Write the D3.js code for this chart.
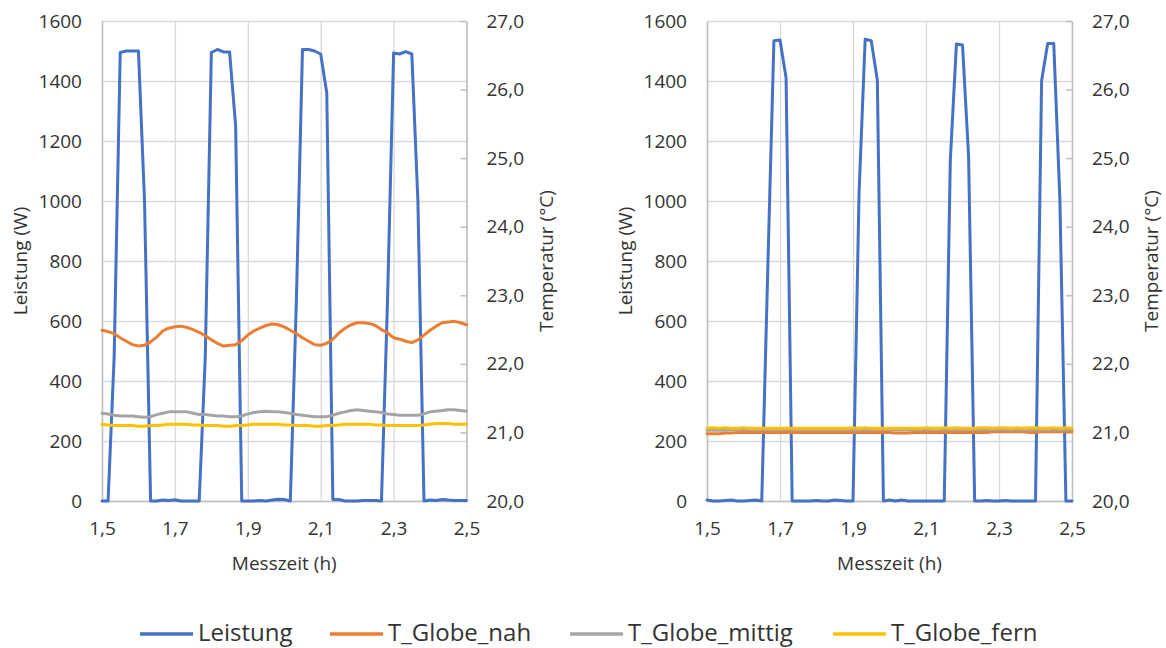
<!DOCTYPE html>
<html><head><meta charset="utf-8">
<script src="https://cdn.jsdelivr.net/npm/d3@7"></script>
<style>
body{margin:0;background:#fff;}
svg text{font-family:"Open Sans",sans-serif;fill:#333;}
</style>
</head><body>
<svg id="c" width="1166" height="648"></svg>
<script>
// ---- data ----
const minutes=[90,91,92,93,94,95,96,97,98,99,100,101,102,103,104,105,106,107,108,109,110,111,112,113,114,115,116,117,118,119,120,121,122,123,124,125,126,127,128,129,130,131,132,133,134,135,136,137,138,139,140,141,142,143,144,145,146,147,148,149,150];

const leistungA=[0,0,480,1495,1500,1500,1500,1000,0,0,3,2,4,0,0,0,0,480,1495,1505,1497,1497,1250,0,0,0,2,0,3,6,5,0,670,1505,1505,1500,1490,1360,5,5,0,0,0,2,2,2,0,670,1493,1490,1498,1490,1000,0,3,2,5,3,2,2,2];
const nahA=[22.49,22.47,22.44,22.38,22.33,22.28,22.26,22.27,22.32,22.39,22.48,22.52,22.54,22.55,22.53,22.50,22.46,22.41,22.35,22.30,22.26,22.27,22.28,22.34,22.42,22.48,22.52,22.56,22.58,22.57,22.54,22.49,22.44,22.38,22.33,22.28,22.27,22.30,22.36,22.45,22.52,22.57,22.60,22.60,22.59,22.56,22.50,22.45,22.38,22.36,22.33,22.31,22.35,22.42,22.49,22.55,22.60,22.61,22.62,22.60,22.57];
const mittigA=[21.28,21.27,21.25,21.24,21.24,21.24,21.23,21.22,21.23,21.26,21.28,21.30,21.30,21.30,21.30,21.28,21.26,21.26,21.25,21.24,21.24,21.23,21.23,21.24,21.27,21.29,21.30,21.31,21.30,21.30,21.29,21.28,21.26,21.25,21.24,21.23,21.23,21.23,21.25,21.28,21.30,21.32,21.33,21.32,21.31,21.30,21.29,21.27,21.26,21.25,21.25,21.25,21.25,21.27,21.30,21.31,21.32,21.33,21.33,21.32,21.31];
const fernA=[21.12,21.11,21.10,21.10,21.10,21.10,21.09,21.09,21.10,21.10,21.11,21.12,21.12,21.12,21.12,21.11,21.11,21.10,21.10,21.10,21.09,21.09,21.10,21.10,21.11,21.12,21.12,21.12,21.12,21.12,21.11,21.11,21.10,21.10,21.10,21.09,21.09,21.10,21.10,21.11,21.12,21.12,21.12,21.12,21.12,21.11,21.11,21.10,21.10,21.10,21.10,21.10,21.10,21.11,21.12,21.13,21.13,21.13,21.12,21.12,21.12];

const leistungB=[3,0,0,2,3,0,0,2,3,0,780,1534,1537,1410,0,0,0,0,2,0,0,3,2,0,0,1030,1539,1534,1403,0,3,0,3,0,0,0,0,0,0,0,1137,1523,1520,1150,0,0,2,0,0,2,0,0,0,0,0,1400,1525,1525,1010,0,0];
const nahB=[20.98,20.98,20.98,20.99,20.99,21.00,21.00,21.00,21.00,21.00,21.00,21.00,21.00,21.00,21.00,21.00,21.00,21.00,21.00,21.00,21.00,21.00,21.00,21.00,21.00,21.00,21.00,21.00,21.00,21.00,21.00,20.99,20.99,20.99,21.00,21.00,21.00,21.00,21.00,21.00,21.00,21.00,21.00,21.00,21.00,21.00,21.00,21.01,21.01,21.01,21.01,21.01,21.01,21.00,21.00,21.01,21.01,21.01,21.01,21.01,21.01];
const mittigB=[21.03,21.03,21.03,21.03,21.04,21.04,21.04,21.04,21.04,21.04,21.04,21.04,21.04,21.04,21.04,21.04,21.04,21.04,21.04,21.04,21.04,21.04,21.04,21.04,21.04,21.04,21.04,21.04,21.04,21.04,21.04,21.04,21.04,21.04,21.04,21.04,21.04,21.04,21.04,21.04,21.04,21.04,21.04,21.04,21.04,21.04,21.04,21.04,21.04,21.04,21.04,21.04,21.04,21.04,21.04,21.04,21.04,21.04,21.04,21.04,21.04];
const fernB=[21.06,21.07,21.06,21.07,21.06,21.06,21.07,21.06,21.06,21.06,21.06,21.06,21.06,21.06,21.06,21.06,21.06,21.06,21.06,21.06,21.06,21.06,21.06,21.06,21.07,21.06,21.07,21.06,21.06,21.06,21.06,21.06,21.06,21.06,21.06,21.06,21.07,21.06,21.06,21.07,21.06,21.07,21.06,21.06,21.06,21.07,21.07,21.06,21.07,21.07,21.06,21.07,21.06,21.07,21.07,21.06,21.06,21.07,21.06,21.07,21.06];

const xTickValues=[1.5,1.7,1.9,2.1,2.3,2.5];
const leftTickValues=[0,200,400,600,800,1000,1200,1400,1600];
const rightTickValues=[20,21,22,23,24,25,26,27];
const seriesNames=["Leistung","T_Globe_nah","T_Globe_mittig","T_Globe_fern"];
const colors=["#4472C4","#ED7D31","#A5A5A5","#FFC000"];
const xTitle="Messzeit (h)", yLeftTitle="Leistung (W)", yRightTitle="Temperatur (°C)";

// ---- layout ----
const svg=d3.select("#c");
const yTop=21, yBottom=501;
const panels=[
  {x0:102,x1:466.5,series:[leistungA,nahA,mittigA,fernA]},
  {x0:707,x1:1072,series:[leistungB,nahB,mittigB,fernB]}
];
const comma=f=>v=>f(v).replace(".",",");
const gridColor="#d9d9d9", axisColor="#bfbfbf";
const FS=19;

panels.forEach(p=>{
  const x=d3.scaleLinear().domain([1.5,2.5]).range([p.x0,p.x1]);
  const yL=d3.scaleLinear().domain([0,1600]).range([yBottom,yTop]);
  const yR=d3.scaleLinear().domain([20,27]).range([yBottom,yTop]);
  const g=svg.append("g");
  const w=p.x1-p.x0;

  const hg=g.append("g").attr("transform",`translate(${p.x0},0)`)
    .call(d3.axisLeft(yL).tickValues(leftTickValues).tickSize(-w).tickFormat(""));
  hg.select(".domain").remove();
  hg.selectAll("line").attr("stroke",gridColor).attr("stroke-width",1.3);
  const vg=g.append("g").attr("transform",`translate(0,${yBottom})`)
    .call(d3.axisBottom(x).tickValues(xTickValues).tickSize(-(yBottom-yTop)).tickFormat(""));
  vg.select(".domain").remove();
  vg.selectAll("line").attr("stroke",gridColor).attr("stroke-width",1.3);

  const la=g.append("g").attr("transform",`translate(${p.x0},0)`)
    .call(d3.axisLeft(yL).tickValues(leftTickValues).tickSize(0).tickPadding(20).tickFormat(d3.format("d")));
  la.select(".domain").attr("stroke",axisColor).attr("stroke-width",1.5);
  la.selectAll("text").attr("font-size",FS).attr("fill","#333").attr("font-family","Open Sans");
  const ra=g.append("g").attr("transform",`translate(${p.x1},0)`)
    .call(d3.axisRight(yR).tickValues(rightTickValues).tickSize(-6).tickSizeOuter(0).tickPadding(20).tickFormat(comma(d3.format(".1f"))));
  ra.select(".domain").attr("stroke",axisColor).attr("stroke-width",1.5);
  ra.selectAll("line").attr("stroke",axisColor).attr("stroke-width",1.5);
  ra.selectAll("text").attr("font-size",FS).attr("fill","#333").attr("font-family","Open Sans");
  const ba=g.append("g").attr("transform",`translate(0,${yBottom})`)
    .call(d3.axisBottom(x).tickValues(xTickValues).tickSize(0).tickPadding(21).tickFormat(comma(d3.format(".1f"))));
  ba.select(".domain").attr("stroke",axisColor).attr("stroke-width",1.5);
  ba.selectAll("text").attr("font-size",FS).attr("fill","#333").attr("font-family","Open Sans");

  g.append("text").attr("x",(p.x0+p.x1)/2).attr("y",570).attr("text-anchor","middle").attr("font-size",FS).text(xTitle);
  g.append("text").attr("transform",`translate(${p.x0-82},${(yTop+yBottom)/2}) rotate(-90)`).attr("text-anchor","middle").attr("dominant-baseline","central").attr("font-size",FS).text(yLeftTitle);
  g.append("text").attr("transform",`translate(${p.x1+79},${(yTop+yBottom)/2}) rotate(-90)`).attr("text-anchor","middle").attr("dominant-baseline","central").attr("font-size",FS).text(yRightTitle);

  p.series.forEach((vals,si)=>{
    const yy= si===0? yL : yR;
    const line=d3.line().x((d,i)=>x(minutes[i]/60)).y(d=>yy(d));
    g.append("path").datum(vals).attr("d",line).attr("fill","none")
      .attr("stroke",colors[si]).attr("stroke-width",3).attr("stroke-linejoin","round").attr("stroke-linecap","round");
  });
});

const legX=[140,330,570,833];
const lg=svg.append("g");
seriesNames.forEach((n,i)=>{
  lg.append("line").attr("x1",legX[i]).attr("x2",legX[i]+53).attr("y1",634).attr("y2",634)
    .attr("stroke",colors[i]).attr("stroke-width",3.5);
  lg.append("text").attr("x",legX[i]+58).attr("y",641).attr("font-size",24).text(n);
});
</script>
</body></html>
